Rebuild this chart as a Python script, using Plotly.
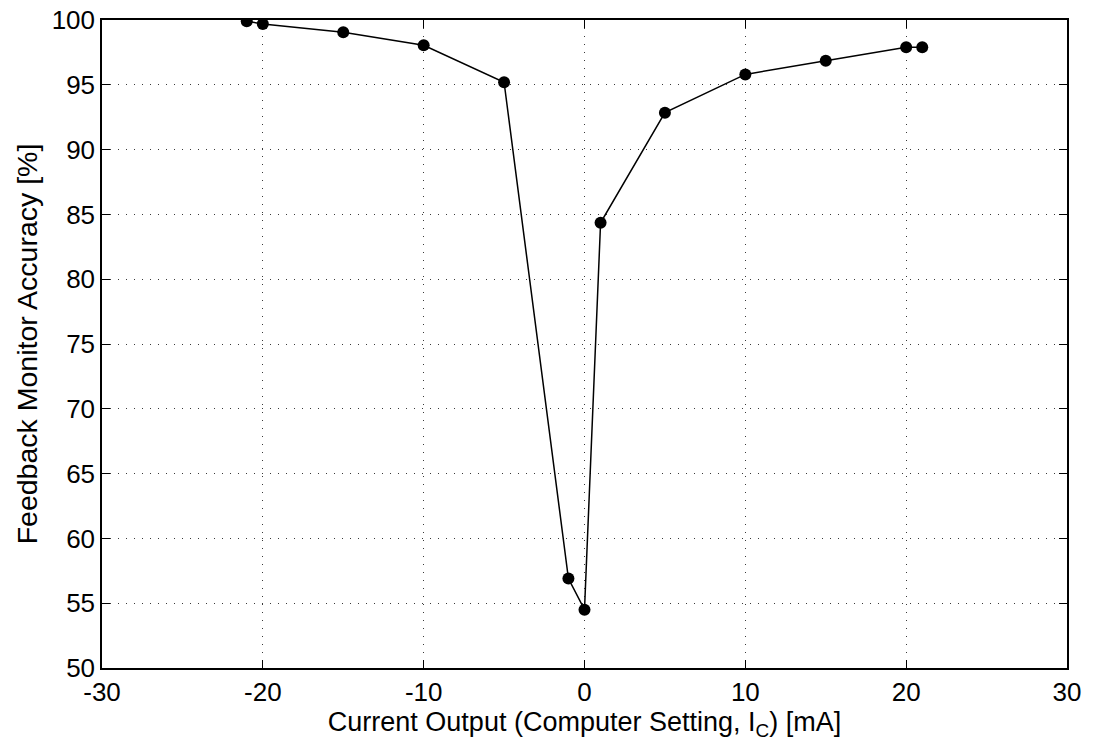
import plotly.graph_objects as go

# Measured feedback monitor accuracy vs. commanded output current
current_ma = [-21, -20, -15, -10, -5, -1, 0, 1, 5, 10, 15, 20, 21]
accuracy_pct = [99.9, 99.7, 99.05, 98.05, 95.2, 56.9, 54.5, 84.35, 92.85, 95.8, 96.85, 97.9, 97.9]

x_ticks = [-30, -20, -10, 0, 10, 20, 30]
y_ticks = [50, 55, 60, 65, 70, 75, 80, 85, 90, 95, 100]

FONT = "Liberation Sans, Arial, Helvetica, sans-serif"

fig = go.Figure()
fig.add_trace(go.Scatter(
    x=current_ma, y=accuracy_pct,
    mode="lines+markers",
    line=dict(color="black", width=1.5),
    marker=dict(color="black", size=12),
    showlegend=False,
))

axis_common = dict(
    showline=True, linecolor="black", linewidth=1.5, mirror="ticks",
    ticks="inside", ticklen=8, tickcolor="black", tickwidth=1,
    showgrid=True, gridcolor="#3a3a3a", griddash="1px,7px", gridwidth=1,
    zeroline=False, automargin=False,
    tickfont=dict(family=FONT, size=26, color="black"),
)

fig.update_xaxes(
    range=[-30, 30], tickvals=x_ticks, ticktext=[str(v) for v in x_ticks],
    ticklabelstandoff=0,
    title=dict(text="Current Output (Computer Setting, I<sub>C</sub>) [mA]",
               font=dict(family=FONT, size=27, color="black"),
               standoff=0),
    **axis_common,
)
fig.update_yaxes(
    range=[50, 100], tickvals=y_ticks, ticktext=[str(v) for v in y_ticks],
    ticklabelstandoff=0,
    title=dict(text="Feedback Monitor Accuracy [%]",
               font=dict(family=FONT, size=28.5, color="black"),
               standoff=6),
    **axis_common,
)

fig.update_layout(
    width=1093, height=745,
    margin=dict(l=102, r=26, t=20, b=77, autoexpand=False),
    paper_bgcolor="white", plot_bgcolor="white",
)

fig.write_html("out.html")
